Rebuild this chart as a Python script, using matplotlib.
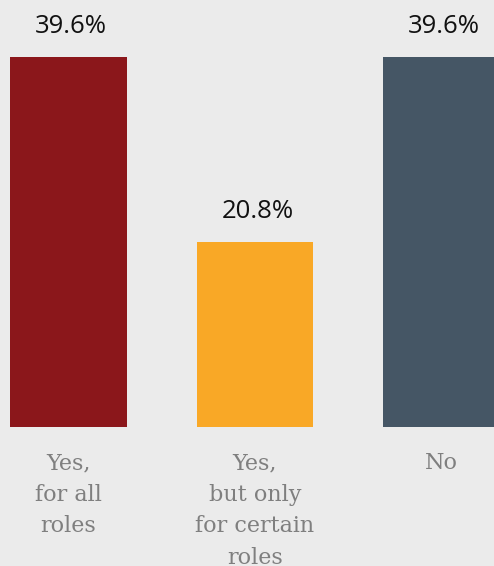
import numpy as np
import matplotlib
matplotlib.use("Agg")
import matplotlib.pyplot as plt

categories = ["Yes,\nfor all\nroles", "Yes,\nbut only\nfor certain\nroles", "No"]
values = [39.6, 20.8, 39.6]
labels = ["39.6%", "20.8%", "39.6%"]
colors = ["#8b171b", "#f9a826", "#455665"]

bg = "#ebebeb"
fig = plt.figure(figsize=(4.94, 5.66), dpi=100, facecolor=bg)
# axis is cut at 2 like in the original graphic
ax = fig.add_axes([0, (566 - 427) / 566, 1, 427 / 566])
ax.set_facecolor(bg)

x = np.arange(len(values))
ax.bar(x, values, width=0.627, color=colors)

ax.set_xlim(-68.5 / 186.5, (494 - 68.5) / 186.5)
ax.set_ylim(2, 45.4)

for xi, v, lab in zip(x, values, labels):
    ax.annotate(lab, (xi, v), xytext=(2, 13), textcoords="offset points",
                ha="center", va="bottom", fontsize=18.5, family="Open Sans",
                color="#111111")

ax.set_xticks(x)
ax.set_xticklabels(categories, family="DejaVu Serif", fontsize=16,
                   color="#7f7f7f", linespacing=1.56, va="top")
ax.tick_params(axis="x", length=0, pad=18)
ax.set_yticks([])
for s in ax.spines.values():
    s.set_visible(False)

fig.savefig("out.png", dpi=100, facecolor=bg)
